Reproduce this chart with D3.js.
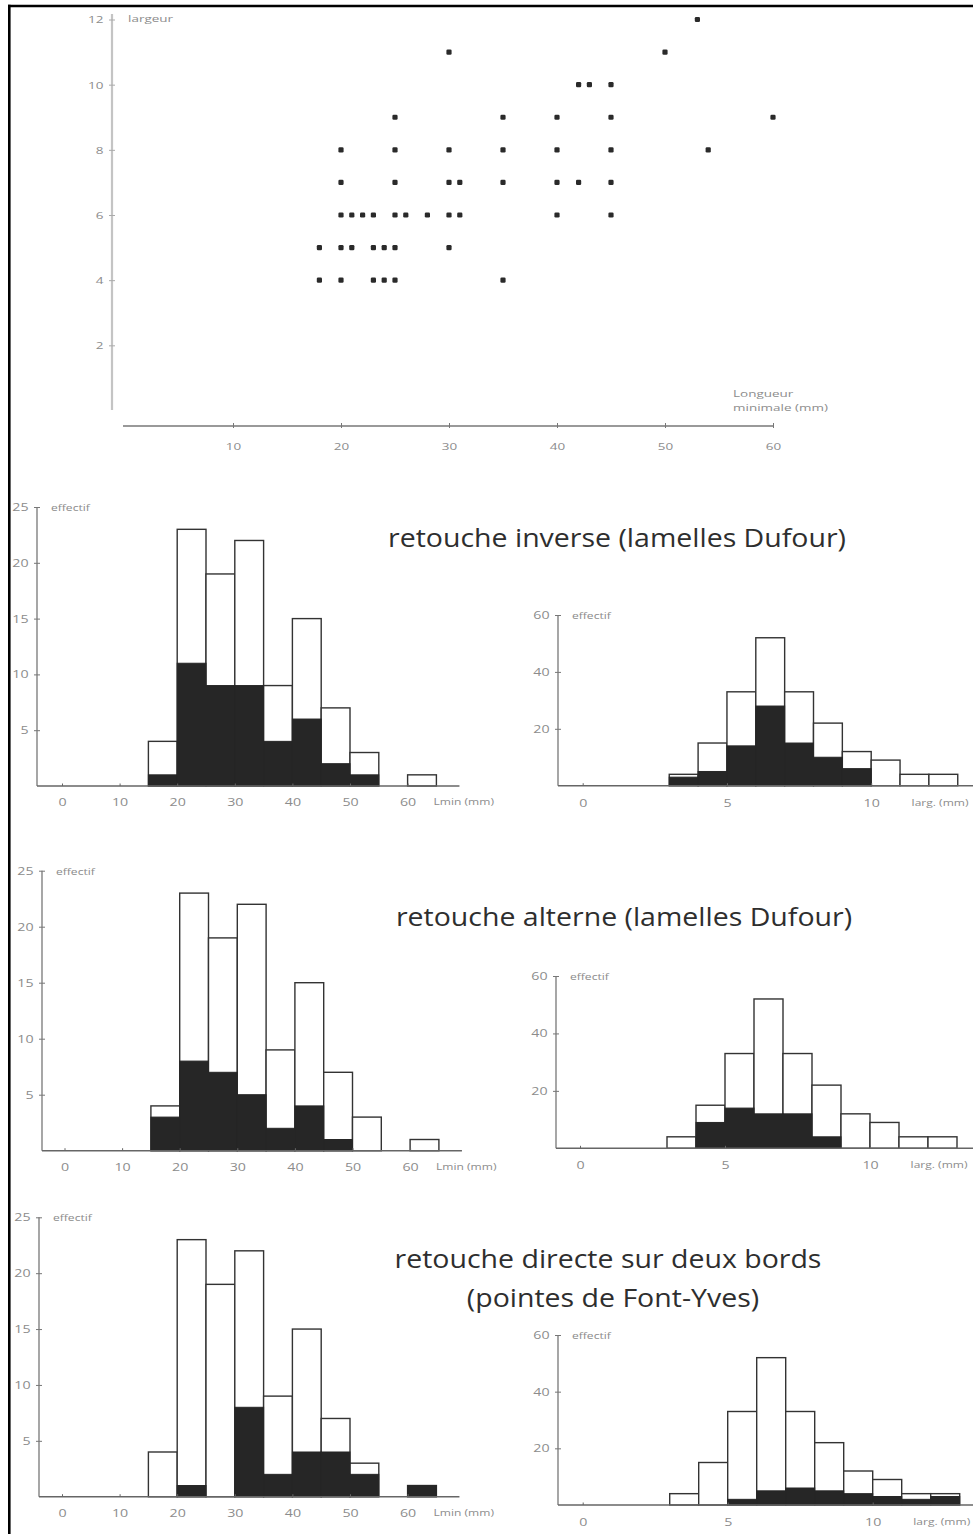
<!DOCTYPE html>
<html><head><meta charset="utf-8">
<script src="https://cdn.jsdelivr.net/npm/d3@7"></script>
<style>body{margin:0;background:#fff}svg{display:block}</style>
</head><body>
<script>
// ---------- DATA ----------
// scatter: largeur (mm) rows, with Longueur minimale (mm) values
const scatterRows = [12, 11, 10, 9, 8, 7, 6, 5, 4];
const scatterLengths = [
  [53],
  [30, 50],
  [42, 43, 45],
  [25, 35, 40, 45, 60],
  [20, 25, 30, 35, 40, 45, 54],
  [20, 25, 30, 31, 35, 40, 42, 45],
  [20, 21, 22, 23, 25, 26, 28, 30, 31, 40, 45],
  [18, 20, 21, 23, 24, 25, 30],
  [18, 20, 23, 24, 25, 35]
];
const scatterXTicks = [10, 20, 30, 40, 50, 60];
const scatterYTicks = [2, 4, 6, 8, 10, 12];

// Lmin histograms (bins of 5 mm)
const lminBinStart = [15, 20, 25, 30, 35, 40, 45, 50, 55, 60];
const lminTotal    = [4, 23, 19, 22, 9, 15, 7, 3, 0, 1];
const lminInverse  = [1, 11, 9, 9, 4, 6, 2, 1, 0, 0];
const lminAlterne  = [3, 8, 7, 5, 2, 4, 1, 0, 0, 0];
const lminDirecte  = [0, 1, 0, 8, 2, 4, 4, 2, 0, 1];
const lminXTicks = [0, 10, 20, 30, 40, 50, 60];
const lminYTicks = [5, 10, 15, 20, 25];

// width histograms (bins of 1 mm)
const largBinStart = [3, 4, 5, 6, 7, 8, 9, 10, 11, 12];
const largTotal    = [4, 15, 33, 52, 33, 22, 12, 9, 4, 4];
const largInverse  = [3, 5, 14, 28, 15, 10, 6, 0, 0, 0];
const largAlterne  = [0, 9, 14, 12, 12, 4, 0, 0, 0, 0];
const largDirecte  = [0, 0, 2, 5, 6, 5, 4, 3, 2, 3];
const largXTicks = [0, 5, 10];
const largYTicks = [20, 40, 60];

const titles = [
  ["retouche inverse (lamelles Dufour)"],
  ["retouche alterne (lamelles Dufour)"],
  ["retouche directe sur deux bords", "(pointes de Font-Yves)"]
];

// ---------- DRAW ----------
const W = 973, H = 1534;
const svg = d3.select("body").append("svg").attr("width", W).attr("height", H);
const smallFont = "'Open Sans', 'DejaVu Sans', sans-serif";
const txtGrey = "#8c8c8c";
const SX = 1.42;     // horizontal stretch of small labels
const fmt = d3.format("d");

function addText(g, x, y, str, size, opts = {}) {
  return g.append("text")
    .attr("transform", `translate(${x},${y}) scale(${opts.sx || SX},1)`)
    .attr("text-anchor", opts.anchor || "start")
    .attr("font-family", opts.family || smallFont)
    .attr("font-size", size)
    .attr("fill", opts.fill || txtGrey)
    .text(str);
}
function styleTicks(sel, size) {
  sel.attr("font-family", smallFont).attr("font-size", size).attr("fill", txtGrey)
    .attr("transform", `scale(${SX},1)`);
}

// ---- scatter ----
{
  const x = d3.scaleLinear().domain([0, 60]).range([125, 773]);
  const y = d3.scaleLinear().domain([0, 12]).range([410.5, 19.5]);
  const g = svg.append("g");
  g.append("line").attr("x1", 112).attr("x2", 112).attr("y1", 14).attr("y2", 410)
    .attr("stroke", "#c4c4c4").attr("stroke-width", 2.2);
  const ya = g.append("g").attr("transform", "translate(112,0)")
    .call(d3.axisLeft(y).tickValues(scatterYTicks).tickFormat(fmt).tickSize(0).tickPadding(0));
  ya.select(".domain").remove();
  ya.selectAll(".tick").append("line").attr("x1", -3).attr("x2", 3).attr("stroke", "#aaa").attr("stroke-width", 1);
  ya.selectAll(".tick text").attr("x", -6).attr("dy", "0.35em").call(styleTicks, 9.5);
  addText(g, 128, 22, "largeur", 9.5);

  g.append("line").attr("x1", 123).attr("x2", 773).attr("y1", 426).attr("y2", 426)
    .attr("stroke", "#777").attr("stroke-width", 1.3);
  const xa = g.append("g").attr("transform", "translate(0,426)")
    .call(d3.axisBottom(x).tickValues(scatterXTicks).tickFormat(fmt).tickSize(0).tickPadding(0));
  xa.select(".domain").remove();
  xa.selectAll(".tick").append("line").attr("y1", -3).attr("y2", 2).attr("stroke", "#777").attr("stroke-width", 1);
  xa.selectAll(".tick text").attr("y", 24).attr("dy", 0).call(styleTicks, 9.5);
  addText(g, 733, 397, "Longueur", 9.5);
  addText(g, 733, 411, "minimale (mm)", 9.5);

  const pts = [];
  scatterRows.forEach((r, i) => scatterLengths[i].forEach(l => pts.push({l, r})));
  g.selectAll("rect.pt").data(pts).enter().append("rect").attr("class", "pt")
    .attr("x", d => x(d.l) - 2.6).attr("y", d => y(d.r) - 2.6)
    .attr("width", 5.2).attr("height", 5.2).attr("rx", 1.3).attr("fill", "#2a2a2a");
}

// ---- histogram helper ----
function histogram(cfg) {
  const g = svg.append("g");
  const x = d3.scaleLinear().domain([0, 1]).range([cfg.x0, cfg.x0 + cfg.pxPerUnit]);
  const y = d3.scaleLinear().domain([0, cfg.yMax]).range([cfg.y0, cfg.yTop]);
  const data = cfg.starts.map((s, i) => ({s, t: cfg.total[i], b: cfg.black[i]}));
  g.selectAll("rect.tot").data(data.filter(d => d.t > 0)).enter().append("rect")
    .attr("x", d => x(d.s)).attr("y", d => y(d.t))
    .attr("width", d => x(d.s + cfg.binW) - x(d.s)).attr("height", d => y(0) - y(d.t))
    .attr("fill", "#fff").attr("stroke", "#333").attr("stroke-width", 1.4);
  g.selectAll("rect.blk").data(data.filter(d => d.b > 0)).enter().append("rect")
    .attr("x", d => x(d.s)).attr("y", d => y(d.b))
    .attr("width", d => x(d.s + cfg.binW) - x(d.s)).attr("height", d => y(0) - y(d.b))
    .attr("fill", "#262626").attr("stroke", "#262626").attr("stroke-width", 1);
  // y axis
  g.append("line").attr("x1", cfg.axisX).attr("x2", cfg.axisX).attr("y1", cfg.y0).attr("y2", cfg.yTop)
    .attr("stroke", "#777").attr("stroke-width", 1.3);
  const ya = g.append("g").attr("transform", `translate(${cfg.axisX},0)`)
    .call(d3.axisLeft(y).tickValues(cfg.yTicks).tickFormat(fmt).tickSize(0).tickPadding(0));
  ya.select(".domain").remove();
  ya.selectAll(".tick").append("line").attr("x1", -3).attr("x2", 3).attr("stroke", "#777").attr("stroke-width", 1);
  ya.selectAll(".tick text").attr("x", -6).attr("dy", "0.35em").call(styleTicks, 10);
  addText(g, cfg.axisX + 14, cfg.yTop + 4, "effectif", 8.5);
  // x axis
  g.append("line").attr("x1", cfg.axisX).attr("x2", cfg.xEnd).attr("y1", cfg.y0).attr("y2", cfg.y0)
    .attr("stroke", "#666").attr("stroke-width", 1.4);
  const xa = g.append("g").attr("transform", `translate(0,${cfg.y0})`)
    .call(d3.axisBottom(x).tickValues(cfg.xTicks).tickFormat(fmt).tickSize(0).tickPadding(0));
  xa.select(".domain").remove();
  xa.selectAll(".tick").append("line").attr("y1", -2.5).attr("y2", 0).attr("stroke", "#666").attr("stroke-width", 1);
  xa.selectAll(".tick text").attr("y", cfg.labelDy).attr("dy", 0).call(styleTicks, 10);
  addText(g, cfg.unitX, cfg.y0 + cfg.labelDy - 1, cfg.unit, 8.5);
}

const lminPanels = [
  {axisX: 37, x0: 62, y0: 786, yTop: 507, black: lminInverse},
  {axisX: 42, x0: 64.5, y0: 1150.7, yTop: 870.7, black: lminAlterne},
  {axisX: 39, x0: 62, y0: 1496.7, yTop: 1217.3, black: lminDirecte}
];
lminPanels.forEach(p => histogram({
  axisX: p.axisX, x0: p.x0, pxPerUnit: 5.76, y0: p.y0, yTop: p.yTop, yMax: 25,
  starts: lminBinStart, binW: 5, total: lminTotal, black: p.black,
  yTicks: lminYTicks, xTicks: lminXTicks, xEnd: p.x0 + 69 * 5.76,
  labelDy: 20, unit: "Lmin (mm)", unitX: p.x0 + 64.5 * 5.76
}));

const largPanels = [
  {axisX: 558, x0: 582.7, px: 28.85, y0: 785.7, yTop: 615, black: largInverse},
  {axisX: 556, x0: 580, px: 29, y0: 1148.3, yTop: 976, black: largAlterne},
  {axisX: 558, x0: 582.7, px: 29, y0: 1505, yTop: 1335, black: largDirecte}
];
largPanels.forEach(p => histogram({
  axisX: p.axisX, x0: p.x0, pxPerUnit: p.px, y0: p.y0, yTop: p.yTop, yMax: 60,
  starts: largBinStart, binW: 1, total: largTotal, black: p.black,
  yTicks: largYTicks, xTicks: largXTicks, xEnd: W,
  labelDy: 21, unit: "larg. (mm)", unitX: p.x0 + 11.4 * p.px
}));

// ---- titles ----
const titlePos = [
  {cx: [617], y: [547]},
  {cx: [624], y: [926]},
  {cx: [608, 613], y: [1268, 1307]}
];
titles.forEach((lines, i) => {
  lines.forEach((t, j) => {
    addText(svg, titlePos[i].cx[j], titlePos[i].y[j], t, 25,
      {anchor: "middle", sx: 1.14, family: "'Open Sans', sans-serif", fill: "#2e2e2e"});
  });
});

// ---- frame ----
svg.append("line").attr("x1", 8).attr("x2", W).attr("y1", 6).attr("y2", 6).attr("stroke", "#000").attr("stroke-width", 2.6);
svg.append("line").attr("x1", 9.3).attr("x2", 9.3).attr("y1", 4.7).attr("y2", H).attr("stroke", "#000").attr("stroke-width", 2.6);
</script>
</body></html>
